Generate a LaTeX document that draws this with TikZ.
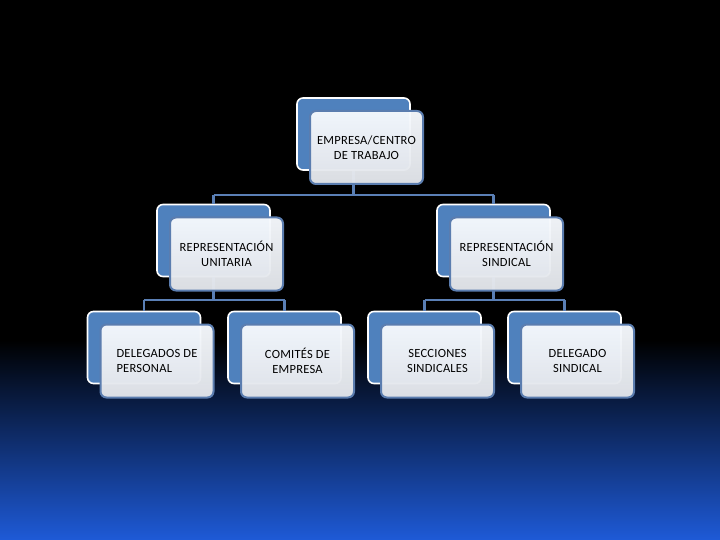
\documentclass[tikz,border=0pt]{standalone}
\usepackage{fontspec}
\setmainfont{Carlito}[LetterSpace=2]
\definecolor{bgblue}{RGB}{30,90,215}
\definecolor{backfill}{RGB}{79,129,189}
\definecolor{frontline}{RGB}{91,125,175}
\definecolor{frontTop}{RGB}{246,249,253}
\definecolor{frontMid}{RGB}{238,243,250}
\definecolor{frontBot}{RGB}{226,229,234}
\definecolor{linkcol}{RGB}{90,127,181}
\begin{document}
\begin{tikzpicture}[x=1pt,y=-1pt,
  backbox/.style={rectangle, rounded corners=6pt, minimum width=113pt, minimum height=72pt,
    inner sep=0pt, fill=backfill, draw=white, line width=1.6pt},
  frontbox/.style={rectangle, rounded corners=6pt, minimum width=113pt, minimum height=73pt,
    inner sep=0pt, draw=frontline, line width=2pt, top color=frontTop, middle color=frontMid,
    bottom color=frontBot,
    fill opacity=0.97, text opacity=1, align=center, text=black,
    font=\fontsize{12.5}{15}\selectfont},
  link/.style={draw=linkcol, line width=2.5pt}
]
\useasboundingbox (0,0) rectangle (720,540);
\fill[black] (0,0) rectangle (720,540);
\shade[top color=black, bottom color=bgblue] (0,340) rectangle (720,540);

% coordinates for connector junctions
\coordinate (j1) at (353.5,195);
\coordinate (j1l) at (213.5,195);
\coordinate (j1r) at (493.5,195);
\coordinate (j2) at (213.5,300);
\coordinate (j2l) at (144,300);
\coordinate (j2r) at (284.5,300);
\coordinate (j3) at (493.5,300);
\coordinate (j3l) at (424.5,300);
\coordinate (j3r) at (564.5,300);

% back boxes
\node[backbox] (top-b) at (353.5,134) {};
\node[backbox] (uni-b) at (213.5,240.5) {};
\node[backbox] (sin-b) at (493.5,240.5) {};
\node[backbox] (del-b) at (144,347.5) {};
\node[backbox] (com-b) at (284.5,347.5) {};
\node[backbox] (sec-b) at (424.5,347.5) {};
\node[backbox] (dsi-b) at (564.5,347.5) {};

% connectors
\draw[link] (top-b.south) -- (j1);
\draw[link] (j1l) -- (j1r);
\draw[link] (j1l) -- (uni-b.north);
\draw[link] (j1r) -- (sin-b.north);
\draw[link] (uni-b.south) -- (j2);
\draw[link] (j2l) -- (j2r);
\draw[link] (j2l) -- (del-b.north);
\draw[link] (j2r) -- (com-b.north);
\draw[link] (sin-b.south) -- (j3);
\draw[link] (j3l) -- (j3r);
\draw[link] (j3l) -- (sec-b.north);
\draw[link] (j3r) -- (dsi-b.north);

% front boxes
\node[frontbox] (top) at (366.5,147.5) {EMPRESA/CENTRO\\DE TRABAJO};
\node[frontbox] (uni) at (226.5,254) {REPRESENTACIÓN\\UNITARIA};
\node[frontbox] (sin) at (506.5,254) {REPRESENTACIÓN\\SINDICAL};
\node[frontbox, align=left] (del) at (157,361) {DELEGADOS DE\\PERSONAL};
\node[frontbox] (com) at (297.5,361) {COMITÉS DE\\EMPRESA};
\node[frontbox] (sec) at (437.5,361) {SECCIONES\\SINDICALES};
\node[frontbox] (dsi) at (577.5,361) {DELEGADO\\SINDICAL};
\end{tikzpicture}
\end{document}
